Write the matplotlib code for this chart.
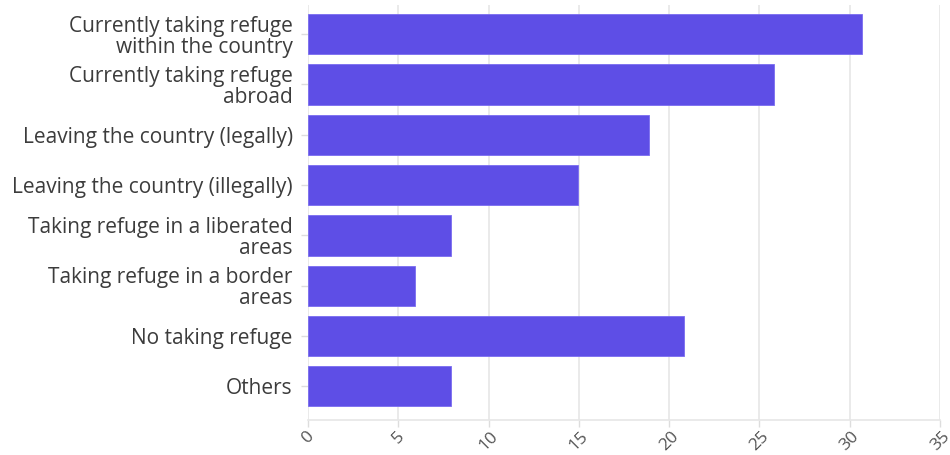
import matplotlib.pyplot as plt

categories = [
    "Currently taking refuge\nwithin the country",
    "Currently taking refuge\nabroad",
    "Leaving the country (legally)",
    "Leaving the country (illegally)",
    "Taking refuge in a liberated\nareas",
    "Taking refuge in a border\nareas",
    "No taking refuge",
    "Others",
]
values = [30.7, 25.8, 18.9, 14.95, 7.9, 5.9, 20.8, 7.9]
xticks = [0, 5, 10, 15, 20, 25, 30, 35]

plt.rcParams['font.family'] = ['Open Sans', 'DejaVu Sans']

fig = plt.figure(figsize=(9.5, 4.55), dpi=100)
ax = fig.add_axes([308 / 950, 1 - 420 / 455, (940 - 308) / 950, (420 - 5) / 455])

y = list(range(len(categories)))
ax.barh(y, values, height=0.8, color="#5e4ee6", edgecolor="#7a6cf0", linewidth=0.6, zorder=3)

ax.set_xlim(0, 35)
ax.set_ylim(len(categories) - 0.33, -0.58)
ax.set_xticks(xticks)
ax.set_xticklabels([str(t) for t in xticks], rotation=45, ha="center", va="top",
                   fontsize=12.5, color="#555555")
ax.set_yticks(y)
ax.set_yticklabels(categories, fontsize=15, color="#3c3c3c", linespacing=1.0)

ax.grid(axis="x", color="#e6e6e6", linewidth=1.2, zorder=0)
for s in ["top", "right", "left"]:
    ax.spines[s].set_visible(False)
ax.spines["bottom"].set_color("#e6e6e6")
ax.spines["bottom"].set_linewidth(1.2)
ax.tick_params(axis="both", colors="#dddddd", length=5, width=1)
ax.tick_params(axis="x", labelcolor="#555555", pad=1)
ax.tick_params(axis="y", labelcolor="#3c3c3c", pad=6)

fig.savefig("out.png", dpi=100)
